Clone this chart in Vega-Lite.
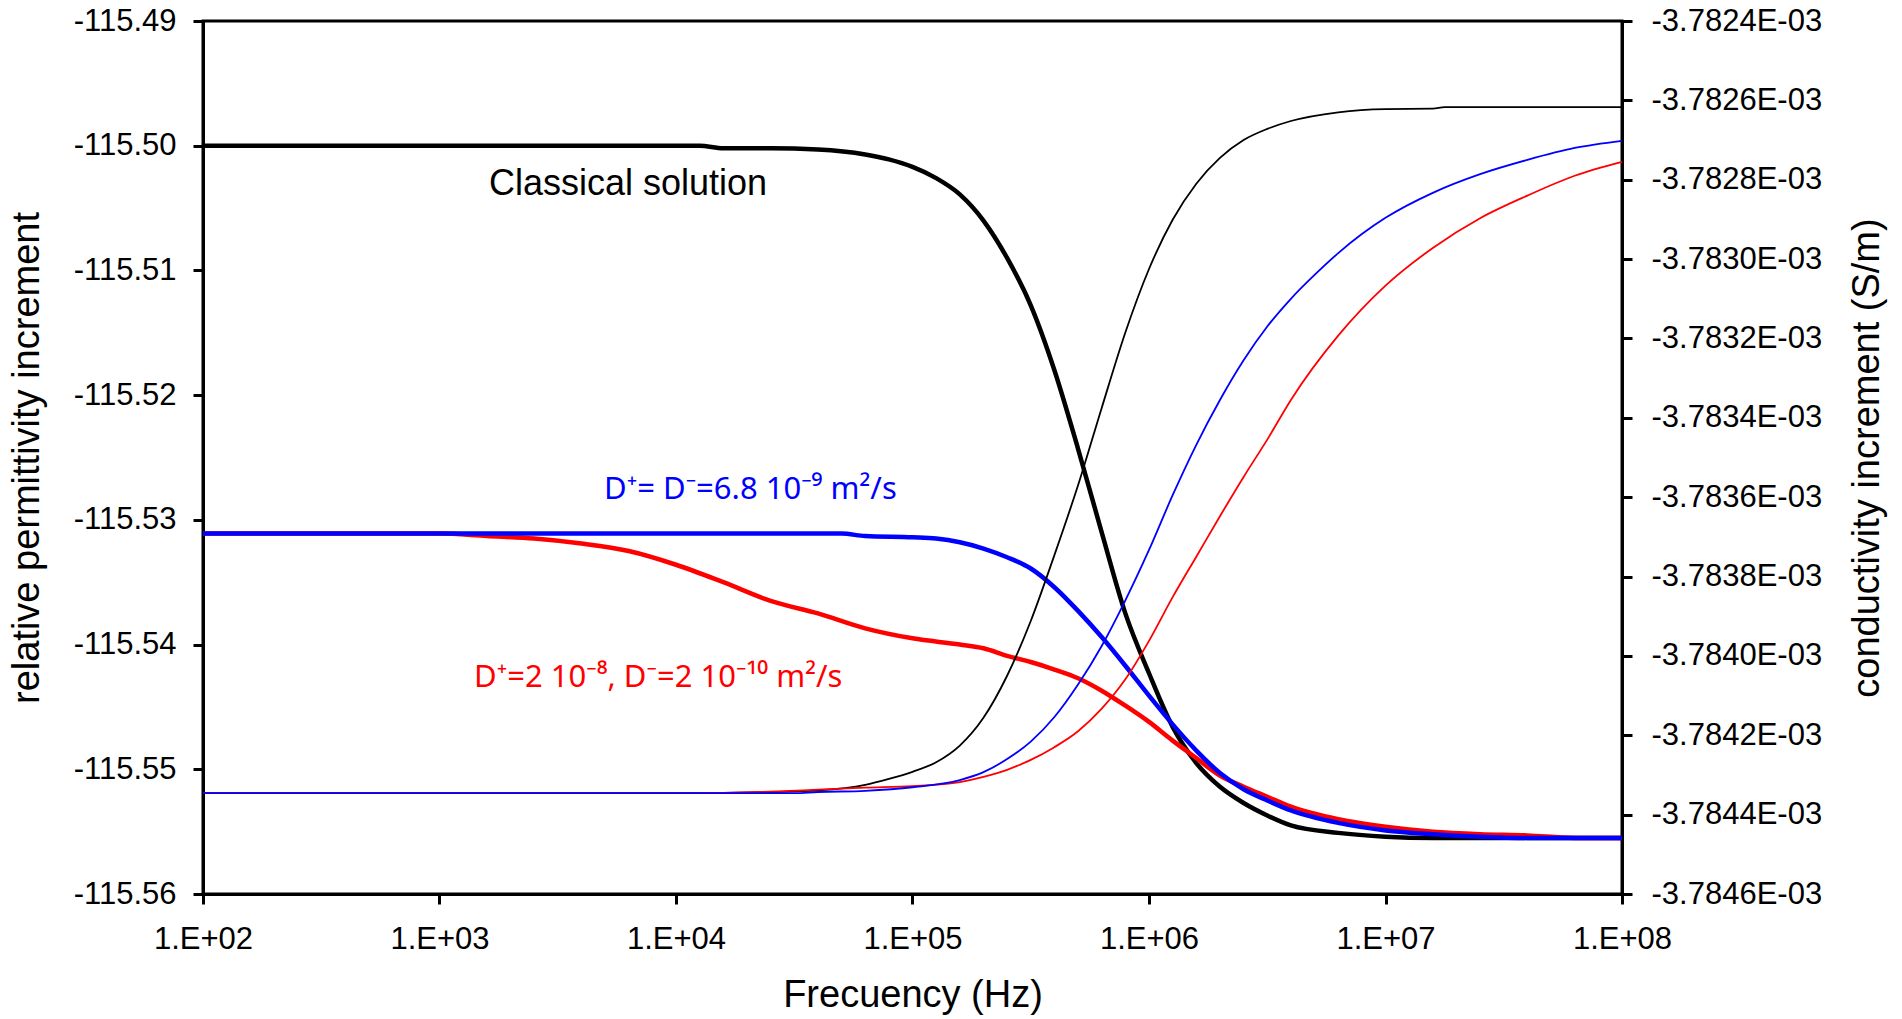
{
  "$schema": "https://vega.github.io/schema/vega-lite/v6.json",
  "width": 1419,
  "height": 873,
  "autosize": "none",
  "padding": {"left": 203, "top": 21, "right": 280, "bottom": 125},
  "background": "white",
  "config": {
    "view": {"stroke": "black", "strokeWidth": 3},
    "font": "Liberation Sans",
    "axis": {
      "grid": false,
      "domainColor": "black",
      "domainWidth": 3,
      "tickColor": "black",
      "tickWidth": 3,
      "tickSize": 10,
      "labelColor": "black",
      "labelFont": "Liberation Sans",
      "labelFontSize": 31,
      "titleColor": "black",
      "titleFont": "Liberation Sans",
      "titleFontSize": 38,
      "titleFontWeight": "normal"
    }
  },
  "datasets": {
    "perm": [
      {"f": 100, "s": "classical", "v": -115.5000},
      {"f": 1000, "s": "classical", "v": -115.5000},
      {"f": 10000, "s": "classical", "v": -115.5000},
      {"f": 12589, "s": "classical", "v": -115.5000},
      {"f": 15849, "s": "classical", "v": -115.5002},
      {"f": 25119, "s": "classical", "v": -115.5002},
      {"f": 39811, "s": "classical", "v": -115.5003},
      {"f": 63096, "s": "classical", "v": -115.5007},
      {"f": 79433, "s": "classical", "v": -115.5011},
      {"f": 100000, "s": "classical", "v": -115.5017},
      {"f": 125893, "s": "classical", "v": -115.5026},
      {"f": 158489, "s": "classical", "v": -115.5039},
      {"f": 199526, "s": "classical", "v": -115.5060},
      {"f": 251189, "s": "classical", "v": -115.5090},
      {"f": 316228, "s": "classical", "v": -115.5128},
      {"f": 398107, "s": "classical", "v": -115.5180},
      {"f": 501187, "s": "classical", "v": -115.5243},
      {"f": 630957, "s": "classical", "v": -115.5310},
      {"f": 794328, "s": "classical", "v": -115.5375},
      {"f": 1000000, "s": "classical", "v": -115.5423},
      {"f": 1258925, "s": "classical", "v": -115.5466},
      {"f": 1584893, "s": "classical", "v": -115.5495},
      {"f": 1995262, "s": "classical", "v": -115.5514},
      {"f": 2511886, "s": "classical", "v": -115.5527},
      {"f": 3162278, "s": "classical", "v": -115.5537},
      {"f": 3981072, "s": "classical", "v": -115.5545},
      {"f": 6309573, "s": "classical", "v": -115.5551},
      {"f": 10000000, "s": "classical", "v": -115.5554},
      {"f": 15848932, "s": "classical", "v": -115.5555},
      {"f": 100000000, "s": "classical", "v": -115.5555},

      {"f": 100, "s": "unequal", "v": -115.5311},
      {"f": 1000, "s": "unequal", "v": -115.5311},
      {"f": 1585, "s": "unequal", "v": -115.5313},
      {"f": 2512, "s": "unequal", "v": -115.5315},
      {"f": 3981, "s": "unequal", "v": -115.5319},
      {"f": 6310, "s": "unequal", "v": -115.5325},
      {"f": 10000, "s": "unequal", "v": -115.5336},
      {"f": 15849, "s": "unequal", "v": -115.5350},
      {"f": 25119, "s": "unequal", "v": -115.5365},
      {"f": 39811, "s": "unequal", "v": -115.5375},
      {"f": 63096, "s": "unequal", "v": -115.5387},
      {"f": 100000, "s": "unequal", "v": -115.5395},
      {"f": 158489, "s": "unequal", "v": -115.5400},
      {"f": 199526, "s": "unequal", "v": -115.5403},
      {"f": 251189, "s": "unequal", "v": -115.5409},
      {"f": 316228, "s": "unequal", "v": -115.5414},
      {"f": 398107, "s": "unequal", "v": -115.5420},
      {"f": 501187, "s": "unequal", "v": -115.5427},
      {"f": 630957, "s": "unequal", "v": -115.5437},
      {"f": 794328, "s": "unequal", "v": -115.5449},
      {"f": 1000000, "s": "unequal", "v": -115.5462},
      {"f": 1258925, "s": "unequal", "v": -115.5477},
      {"f": 1584893, "s": "unequal", "v": -115.5491},
      {"f": 1995262, "s": "unequal", "v": -115.5505},
      {"f": 2511886, "s": "unequal", "v": -115.5514},
      {"f": 3162278, "s": "unequal", "v": -115.5522},
      {"f": 3981072, "s": "unequal", "v": -115.5530},
      {"f": 6309573, "s": "unequal", "v": -115.5540},
      {"f": 10000000, "s": "unequal", "v": -115.5546},
      {"f": 15848932, "s": "unequal", "v": -115.5550},
      {"f": 25118864, "s": "unequal", "v": -115.5552},
      {"f": 39810717, "s": "unequal", "v": -115.5553},
      {"f": 63095734, "s": "unequal", "v": -115.5555},
      {"f": 100000000, "s": "unequal", "v": -115.5555},

      {"f": 100, "s": "equal", "v": -115.5311},
      {"f": 1000, "s": "equal", "v": -115.5311},
      {"f": 10000, "s": "equal", "v": -115.5311},
      {"f": 50119, "s": "equal", "v": -115.5311},
      {"f": 63096, "s": "equal", "v": -115.5313},
      {"f": 100000, "s": "equal", "v": -115.5314},
      {"f": 125893, "s": "equal", "v": -115.5315},
      {"f": 158489, "s": "equal", "v": -115.5318},
      {"f": 199526, "s": "equal", "v": -115.5323},
      {"f": 251189, "s": "equal", "v": -115.5330},
      {"f": 316228, "s": "equal", "v": -115.5339},
      {"f": 398107, "s": "equal", "v": -115.5354},
      {"f": 501187, "s": "equal", "v": -115.5373},
      {"f": 630957, "s": "equal", "v": -115.5394},
      {"f": 794328, "s": "equal", "v": -115.5417},
      {"f": 1000000, "s": "equal", "v": -115.5441},
      {"f": 1258925, "s": "equal", "v": -115.5464},
      {"f": 1584893, "s": "equal", "v": -115.5485},
      {"f": 1995262, "s": "equal", "v": -115.5503},
      {"f": 2511886, "s": "equal", "v": -115.5516},
      {"f": 3162278, "s": "equal", "v": -115.5525},
      {"f": 3981072, "s": "equal", "v": -115.5533},
      {"f": 6309573, "s": "equal", "v": -115.5543},
      {"f": 10000000, "s": "equal", "v": -115.5549},
      {"f": 15848932, "s": "equal", "v": -115.5552},
      {"f": 25118864, "s": "equal", "v": -115.5554},
      {"f": 39810717, "s": "equal", "v": -115.5555},
      {"f": 100000000, "s": "equal", "v": -115.5555}
    ],
    "cond": [
      {"f": 100, "s": "classical", "v": -0.003784346},
      {"f": 10000, "s": "classical", "v": -0.003784346},
      {"f": 15849, "s": "classical", "v": -0.003784345},
      {"f": 25119, "s": "classical", "v": -0.003784343},
      {"f": 39811, "s": "classical", "v": -0.003784339},
      {"f": 63096, "s": "classical", "v": -0.003784325},
      {"f": 79433, "s": "classical", "v": -0.003784310},
      {"f": 100000, "s": "classical", "v": -0.003784292},
      {"f": 125893, "s": "classical", "v": -0.003784268},
      {"f": 158489, "s": "classical", "v": -0.003784226},
      {"f": 199526, "s": "classical", "v": -0.003784156},
      {"f": 251189, "s": "classical", "v": -0.003784050},
      {"f": 316228, "s": "classical", "v": -0.003783912},
      {"f": 398107, "s": "classical", "v": -0.003783746},
      {"f": 501187, "s": "classical", "v": -0.003783570},
      {"f": 630957, "s": "classical", "v": -0.003783375},
      {"f": 794328, "s": "classical", "v": -0.003783185},
      {"f": 1000000, "s": "classical", "v": -0.003783025},
      {"f": 1258925, "s": "classical", "v": -0.003782901},
      {"f": 1584893, "s": "classical", "v": -0.003782810},
      {"f": 1995262, "s": "classical", "v": -0.003782745},
      {"f": 2511886, "s": "classical", "v": -0.003782700},
      {"f": 3162278, "s": "classical", "v": -0.003782672},
      {"f": 3981072, "s": "classical", "v": -0.003782652},
      {"f": 6309573, "s": "classical", "v": -0.003782630},
      {"f": 10000000, "s": "classical", "v": -0.003782622},
      {"f": 15848932, "s": "classical", "v": -0.003782621},
      {"f": 17782794, "s": "classical", "v": -0.003782617},
      {"f": 100000000, "s": "classical", "v": -0.003782617},

      {"f": 100, "s": "unequal", "v": -0.003784346},
      {"f": 10000, "s": "unequal", "v": -0.003784346},
      {"f": 15849, "s": "unequal", "v": -0.003784345},
      {"f": 25119, "s": "unequal", "v": -0.003784342},
      {"f": 39811, "s": "unequal", "v": -0.003784337},
      {"f": 63096, "s": "unequal", "v": -0.003784332},
      {"f": 100000, "s": "unequal", "v": -0.003784328},
      {"f": 158489, "s": "unequal", "v": -0.003784318},
      {"f": 199526, "s": "unequal", "v": -0.003784305},
      {"f": 251189, "s": "unequal", "v": -0.003784287},
      {"f": 316228, "s": "unequal", "v": -0.003784262},
      {"f": 398107, "s": "unequal", "v": -0.003784230},
      {"f": 501187, "s": "unequal", "v": -0.003784190},
      {"f": 630957, "s": "unequal", "v": -0.003784133},
      {"f": 794328, "s": "unequal", "v": -0.003784059},
      {"f": 1000000, "s": "unequal", "v": -0.003783962},
      {"f": 1258925, "s": "unequal", "v": -0.003783852},
      {"f": 1584893, "s": "unequal", "v": -0.003783750},
      {"f": 1995262, "s": "unequal", "v": -0.003783648},
      {"f": 2511886, "s": "unequal", "v": -0.003783549},
      {"f": 3162278, "s": "unequal", "v": -0.003783455},
      {"f": 3981072, "s": "unequal", "v": -0.003783355},
      {"f": 6309573, "s": "unequal", "v": -0.003783193},
      {"f": 10000000, "s": "unequal", "v": -0.003783067},
      {"f": 15848932, "s": "unequal", "v": -0.003782972},
      {"f": 25118864, "s": "unequal", "v": -0.003782897},
      {"f": 39810717, "s": "unequal", "v": -0.003782840},
      {"f": 63095734, "s": "unequal", "v": -0.003782790},
      {"f": 100000000, "s": "unequal", "v": -0.003782755},

      {"f": 100, "s": "equal", "v": -0.003784346},
      {"f": 31623, "s": "equal", "v": -0.003784346},
      {"f": 39811, "s": "equal", "v": -0.003784343},
      {"f": 63096, "s": "equal", "v": -0.003784340},
      {"f": 100000, "s": "equal", "v": -0.003784331},
      {"f": 158489, "s": "equal", "v": -0.003784313},
      {"f": 199526, "s": "equal", "v": -0.003784293},
      {"f": 251189, "s": "equal", "v": -0.003784260},
      {"f": 316228, "s": "equal", "v": -0.003784216},
      {"f": 398107, "s": "equal", "v": -0.003784154},
      {"f": 501187, "s": "equal", "v": -0.003784072},
      {"f": 630957, "s": "equal", "v": -0.003783975},
      {"f": 794328, "s": "equal", "v": -0.003783860},
      {"f": 1000000, "s": "equal", "v": -0.003783733},
      {"f": 1258925, "s": "equal", "v": -0.003783595},
      {"f": 1584893, "s": "equal", "v": -0.003783468},
      {"f": 1995262, "s": "equal", "v": -0.003783355},
      {"f": 2511886, "s": "equal", "v": -0.003783255},
      {"f": 3162278, "s": "equal", "v": -0.003783170},
      {"f": 3981072, "s": "equal", "v": -0.003783100},
      {"f": 5011872, "s": "equal", "v": -0.003783040},
      {"f": 6309573, "s": "equal", "v": -0.003782985},
      {"f": 7943282, "s": "equal", "v": -0.003782937},
      {"f": 10000000, "s": "equal", "v": -0.003782896},
      {"f": 15848932, "s": "equal", "v": -0.003782833},
      {"f": 25118864, "s": "equal", "v": -0.003782786},
      {"f": 39810717, "s": "equal", "v": -0.003782750},
      {"f": 63095734, "s": "equal", "v": -0.003782720},
      {"f": 100000000, "s": "equal", "v": -0.003782702}
    ],
    "labels": [
      {"f": 1618, "v": -115.5031, "s": "classical", "label": "Classical solution", "kind": "title"},
      {"f": 4966, "v": -115.5276, "s": "equal", "label": "D⁺= D⁻=6.8 10⁻⁹ m²/s", "kind": "coef"},
      {"f": 1400, "v": -115.5427, "s": "unequal", "label": "D⁺=2 10⁻⁸, D⁻=2 10⁻¹⁰ m²/s", "kind": "coef"}
    ]
  },
  "layer": [
    {
      "layer": [
        {
          "data": {"name": "perm"},
          "mark": {"type": "line", "strokeWidth": 4.5, "interpolate": "monotone"},
          "encoding": {
            "x": {
              "field": "f", "type": "quantitative",
              "scale": {"type": "log", "domain": [100, 100000000], "nice": false},
              "axis": {
                "title": "Frecuency (Hz)",
                "values": [100, 1000, 10000, 100000, 1000000, 10000000, 100000000],
                "labelExpr": "'1.E+' + format(round(log(datum.value)/LN10), '02d')",
                "labelPadding": 20,
                "labelFlush": false,
                "labelOverlap": false,
                "titleX": 709.5, "titleY": 82, "titleAlign": "center", "titleBaseline": "top"
              }
            },
            "y": {
              "field": "v", "type": "quantitative",
              "scale": {"domain": [-115.56, -115.49], "nice": false, "zero": false},
              "axis": {
                "title": "relative permittivity increment",
                "values": [-115.56, -115.55, -115.54, -115.53, -115.52, -115.51, -115.5, -115.49],
                "labelExpr": "'-' + format(abs(datum.value), '.2f')",
                "labelPadding": 17,
                "labelFlush": false,
                "labelOverlap": false,
                "titleAngle": -90, "titleX": -176, "titleY": 436.5, "titleAlign": "center", "titleBaseline": "middle"
              }
            },
            "color": {
              "field": "s", "type": "nominal",
              "scale": {"domain": ["classical", "unequal", "equal"], "range": ["#000000", "#ff0000", "#0000ff"]},
              "legend": null
            }
          }
        },
        {
          "data": {"name": "labels"},
          "transform": [{"filter": "datum.kind == 'title'"}],
          "mark": {"type": "text", "align": "left", "baseline": "middle", "font": "Liberation Sans", "fontSize": 36},
          "encoding": {
            "x": {"field": "f", "type": "quantitative"},
            "y": {"field": "v", "type": "quantitative"},
            "text": {"field": "label"},
            "color": {"field": "s", "type": "nominal", "legend": null}
          }
        },
        {
          "data": {"name": "labels"},
          "transform": [{"filter": "datum.kind == 'coef'"}],
          "mark": {"type": "text", "align": "left", "baseline": "middle", "font": "Noto Sans", "fontSize": 31},
          "encoding": {
            "x": {"field": "f", "type": "quantitative"},
            "y": {"field": "v", "type": "quantitative"},
            "text": {"field": "label"},
            "color": {"field": "s", "type": "nominal", "legend": null}
          }
        }
      ]
    },
    {
      "data": {"name": "cond"},
      "mark": {"type": "line", "strokeWidth": 1.8, "interpolate": "monotone"},
      "encoding": {
        "x": {"field": "f", "type": "quantitative"},
        "y": {
          "field": "v", "type": "quantitative",
          "scale": {"domain": [-0.0037846, -0.0037824], "nice": false, "zero": false},
          "axis": {
            "orient": "right",
            "title": "conductivity increment (S/m)",
            "values": [-0.0037846, -0.0037844, -0.0037842, -0.003784, -0.0037838, -0.0037836, -0.0037834, -0.0037832, -0.003783, -0.0037828, -0.0037826, -0.0037824],
            "labelExpr": "'-' + format(abs(datum.value) * 1000, '.4f') + 'E-03'",
            "labelPadding": 19,
            "labelFlush": false,
            "labelOverlap": false,
            "titleAngle": -90, "titleX": 245, "titleY": 436.5, "titleAlign": "center", "titleBaseline": "middle"
          }
        },
        "color": {"field": "s", "type": "nominal", "legend": null}
      }
    }
  ],
  "resolve": {"scale": {"y": "independent"}}
}
